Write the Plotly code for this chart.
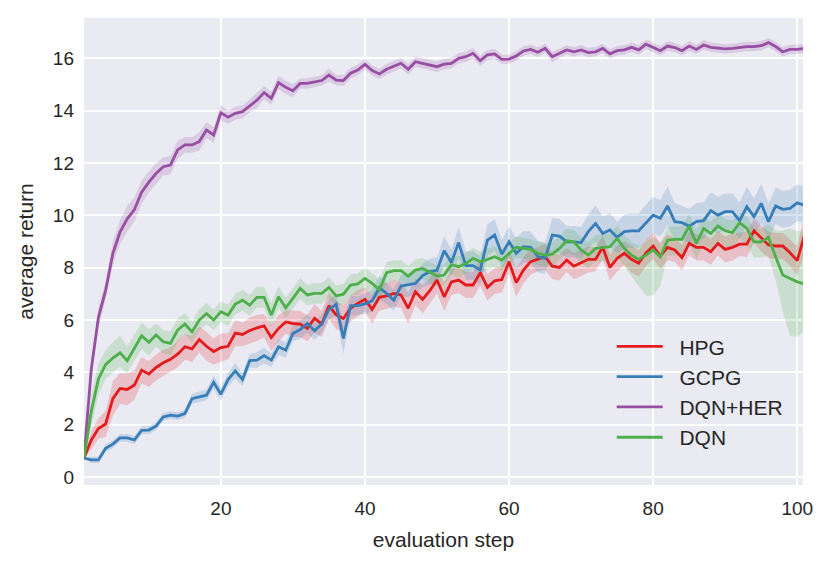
import plotly.graph_objects as go

# evaluation steps
steps = list(range(1, 102))

hpg = [0.73, 1.41, 1.86, 2.03, 3.0, 3.39, 3.35, 3.52, 4.09, 3.94,
       4.19, 4.37, 4.5, 4.7, 4.98, 4.9, 5.26, 5.0, 4.8, 4.95,
       5.0, 5.5, 5.45, 5.6, 5.7, 5.78, 5.33, 5.68, 5.93, 5.87,
       5.85, 5.68, 6.07, 5.85, 6.55, 6.2, 6.06, 6.45, 6.64, 6.79,
       6.41, 6.87, 6.92, 7.02, 6.96, 6.45, 7.08, 6.79, 7.12, 7.53,
       6.89, 7.46, 7.53, 7.34, 7.34, 7.81, 7.25, 7.5, 7.55, 8.23,
       7.43, 7.91, 8.23, 8.32, 8.42, 8.06, 8.01, 8.29, 8.06, 8.19,
       8.32, 8.32, 8.78, 8.01, 8.36, 8.55, 8.32, 8.17, 8.57, 8.83,
       8.45, 8.78, 8.68, 8.39, 8.93, 8.78, 8.78, 8.61, 8.93, 8.7,
       8.78, 8.9, 8.9, 9.41, 9.12, 8.87, 8.83, 8.83, 8.57, 8.27,
       9.25]

gcpg = [0.73, 0.66, 0.66, 1.1, 1.26, 1.5, 1.5, 1.42, 1.79, 1.8,
        1.95, 2.3, 2.37, 2.33, 2.43, 3.0, 3.07, 3.13, 3.62, 3.17,
        3.73, 4.06, 3.73, 4.45, 4.47, 4.64, 4.47, 4.98, 4.85, 5.49,
        5.64, 5.87, 5.59, 5.85, 6.41, 6.6, 5.3, 6.55, 6.55, 6.62,
        6.74, 7.23, 7.02, 6.76, 7.3, 7.34, 7.4, 7.7, 7.85, 7.9,
        8.65, 8.2, 8.96, 8.08, 8.08, 7.91, 9.06, 9.25, 8.52, 8.99,
        8.55, 8.8, 8.78, 8.42, 8.36, 9.25, 9.21, 8.99, 8.99, 8.96,
        9.38, 9.69, 9.31, 9.44, 9.16, 9.38, 9.41, 9.41, 9.72, 10.01,
        9.89, 10.36, 9.76, 9.72, 9.59, 9.76, 9.8, 10.18, 10.01, 10.14,
        10.14, 9.8, 10.33, 9.95, 10.46, 9.76, 10.36, 10.23, 10.27, 10.48,
        10.39]

dqn_her = [0.73, 4.1, 6.1, 7.13, 8.54, 9.36, 9.87, 10.22, 10.89, 11.27,
           11.6, 11.86, 11.92, 12.5, 12.69, 12.69, 12.82, 13.26, 13.07, 13.92,
           13.75, 13.9, 13.96, 14.18, 14.4, 14.69, 14.47, 15.07, 14.89, 14.76,
           15.04, 15.04, 15.1, 15.15, 15.36, 15.17, 15.15, 15.43, 15.55, 15.77,
           15.53, 15.4, 15.58, 15.71, 15.81, 15.58, 15.87, 15.81, 15.74, 15.68,
           15.78, 15.81, 16.0, 16.06, 16.19, 15.91, 16.13, 16.17, 15.96, 15.97,
           16.09, 16.28, 16.34, 16.23, 16.38, 16.06, 16.19, 16.32, 16.25, 16.32,
           16.22, 16.25, 16.38, 16.17, 16.29, 16.32, 16.42, 16.32, 16.54, 16.41,
           16.29, 16.47, 16.41, 16.29, 16.47, 16.34, 16.51, 16.42, 16.38, 16.36,
           16.38, 16.42, 16.45, 16.45, 16.48, 16.6, 16.45, 16.25, 16.34, 16.34,
           16.38]

dqn = [0.73, 2.5, 3.75, 4.3, 4.55, 4.75, 4.45, 4.95, 5.4, 5.15,
       5.43, 5.17, 5.11, 5.62, 5.85, 5.55, 6.0, 6.25, 6.0, 6.32,
       6.19, 6.61, 6.76, 6.57, 6.87, 6.87, 6.19, 6.89, 6.47, 6.83,
       7.21, 6.96, 7.02, 7.02, 7.25, 6.92, 6.99, 7.34, 7.38, 7.59,
       7.4, 7.15, 7.81, 7.89, 7.89, 7.68, 7.91, 7.97, 7.81, 7.68,
       7.72, 8.12, 8.04, 8.16, 8.36, 8.23, 8.32, 8.42, 8.29, 8.55,
       8.78, 8.74, 8.7, 8.55, 8.48, 8.52, 8.74, 9.03, 8.99, 8.68,
       8.48, 8.74, 8.78, 8.8, 9.12, 8.74, 8.48, 8.32, 8.48, 8.68,
       8.42, 9.06, 9.08, 9.08, 9.59, 8.93, 9.5, 9.31, 9.59, 9.41,
       9.34, 9.72, 9.5, 8.99, 8.99, 9.16, 8.42, 7.72, 7.59, 7.46,
       7.38]

# confidence band half-widths (below / above the mean)
hpg_err = [0.0, 0.35, 0.4, 0.5, 0.65, 0.6, 0.6, 0.55, 0.5, 0.5,
           0.5, 0.5, 0.45, 0.5, 0.5, 0.5, 0.5, 0.55, 0.5, 0.55,
           0.5, 0.5, 0.45, 0.5, 0.5, 0.45, 0.5, 0.5, 0.45, 0.5,
           0.5, 0.5, 0.55, 0.5, 0.5, 0.55, 0.5, 0.5, 0.5, 0.45,
           0.55, 0.5, 0.5, 0.5, 0.5, 0.6, 0.5, 0.55, 0.5, 0.5,
           0.55, 0.5, 0.5, 0.5, 0.5, 0.5, 0.5, 0.5, 0.5, 0.45,
           0.55, 0.5, 0.5, 0.45, 0.5, 0.5, 0.5, 0.45, 0.5, 0.5,
           0.5, 0.45, 0.45, 0.5, 0.5, 0.45, 0.5, 0.5, 0.5, 0.5,
           0.5, 0.5, 0.45, 0.5, 0.45, 0.5, 0.5, 0.5, 0.45, 0.5,
           0.5, 0.45, 0.5, 0.45, 0.5, 0.5, 0.5, 0.5, 0.5, 0.55,
           0.7]

gcpg_err = [0.0, 0.12, 0.12, 0.15, 0.15, 0.15, 0.15, 0.15, 0.15, 0.15,
            0.15, 0.15, 0.15, 0.15, 0.15, 0.2, 0.2, 0.2, 0.25, 0.25,
            0.25, 0.3, 0.25, 0.25, 0.3, 0.3, 0.25, 0.3, 0.3, 0.3,
            0.35, 0.35, 0.35, 0.35, 0.4, 0.4, 0.6, 0.4, 0.35, 0.4,
            0.4, 0.45, 0.4, 0.4, 0.4, 0.45, 0.45, 0.45, 0.5, 0.5,
            0.55, 0.5, 0.6, 0.55, 0.55, 0.55, 0.6, 0.6, 0.55, 0.6,
            0.6, 0.6, 0.6, 0.6, 0.6, 0.65, 0.65, 0.6, 0.6, 0.6,
            0.65, 0.7, 0.65, 0.65, 0.6, 0.65, 0.65, 0.65, 0.7, 0.7,
            0.7, 0.75, 0.7, 0.65, 0.65, 0.7, 0.7, 0.7, 0.7, 0.7,
            0.7, 0.7, 0.75, 0.7, 0.75, 0.7, 0.7, 0.7, 0.7, 0.7,
            0.7]

dqn_her_err = [0.0, 0.3, 0.35, 0.35, 0.45, 0.45, 0.5, 0.45, 0.45, 0.4,
               0.4, 0.35, 0.35, 0.35, 0.3, 0.3, 0.35, 0.3, 0.3, 0.3,
               0.25, 0.25, 0.25, 0.25, 0.3, 0.25, 0.25, 0.25, 0.25, 0.25,
               0.2, 0.2, 0.2, 0.2, 0.25, 0.2, 0.2, 0.2, 0.2, 0.2,
               0.2, 0.2, 0.2, 0.2, 0.2, 0.2, 0.2, 0.2, 0.2, 0.2,
               0.2, 0.2, 0.2, 0.2, 0.2, 0.2, 0.2, 0.2, 0.18, 0.18,
               0.18, 0.18, 0.18, 0.18, 0.18, 0.2, 0.18, 0.18, 0.18, 0.18,
               0.18, 0.18, 0.18, 0.18, 0.18, 0.18, 0.18, 0.18, 0.18, 0.18,
               0.18, 0.18, 0.18, 0.18, 0.18, 0.18, 0.18, 0.18, 0.18, 0.18,
               0.18, 0.18, 0.18, 0.18, 0.18, 0.18, 0.18, 0.18, 0.18, 0.18,
               0.18]

dqn_err_lo = [0.0, 0.6, 0.6, 0.55, 0.55, 0.55, 0.5, 0.5, 0.5, 0.5,
              0.45, 0.45, 0.45, 0.45, 0.4, 0.4, 0.4, 0.4, 0.4, 0.4,
              0.4, 0.4, 0.4, 0.4, 0.4, 0.4, 0.45, 0.4, 0.4, 0.4,
              0.4, 0.4, 0.4, 0.4, 0.4, 0.4, 0.4, 0.4, 0.4, 0.4,
              0.4, 0.4, 0.4, 0.4, 0.4, 0.4, 0.4, 0.4, 0.4, 0.4,
              0.4, 0.4, 0.4, 0.4, 0.4, 0.4, 0.4, 0.4, 0.4, 0.4,
              0.4, 0.4, 0.4, 0.45, 0.45, 0.45, 0.45, 0.5, 0.5, 0.5,
              0.5, 0.5, 0.55, 0.6, 0.7, 0.7, 0.8, 1.0, 1.55, 1.75,
              1.1, 0.6, 0.6, 0.6, 0.65, 0.6, 0.6, 0.6, 0.6, 0.6,
              0.6, 0.6, 0.6, 0.6, 0.6, 0.7, 0.9, 1.4, 2.2, 2.1,
              1.8]

dqn_err_hi = [0.0, 0.6, 0.6, 0.55, 0.6, 0.65, 0.55, 0.5, 0.5, 0.5,
              0.45, 0.45, 0.45, 0.45, 0.4, 0.4, 0.4, 0.4, 0.4, 0.4,
              0.4, 0.4, 0.4, 0.4, 0.4, 0.4, 0.45, 0.4, 0.4, 0.4,
              0.4, 0.4, 0.4, 0.4, 0.4, 0.4, 0.4, 0.4, 0.4, 0.4,
              0.4, 0.4, 0.4, 0.4, 0.4, 0.4, 0.4, 0.4, 0.4, 0.4,
              0.4, 0.4, 0.4, 0.4, 0.4, 0.4, 0.4, 0.4, 0.4, 0.4,
              0.4, 0.4, 0.4, 0.45, 0.45, 0.45, 0.45, 0.45, 0.45, 0.5,
              0.5, 0.5, 0.5, 0.5, 0.5, 0.5, 0.5, 0.5, 0.5, 0.5,
              0.5, 0.5, 0.5, 0.5, 0.45, 0.5, 0.45, 0.45, 0.45, 0.45,
              0.45, 0.4, 0.45, 0.5, 0.5, 0.5, 1.0, 1.7, 1.9, 1.95,
              2.0]

series = [
    ("HPG", hpg, hpg_err, hpg_err, "#e41a1c", "rgba(228,26,28,0.2)"),
    ("GCPG", gcpg, gcpg_err, gcpg_err, "#377eb8", "rgba(55,126,184,0.2)"),
    ("DQN+HER", dqn_her, dqn_her_err, dqn_her_err, "#984ea3", "rgba(152,78,163,0.2)"),
    ("DQN", dqn, dqn_err_lo, dqn_err_hi, "#4daf4a", "rgba(77,175,74,0.2)"),
]

fig = go.Figure()

# shaded bands first
for name, mean, lo, hi, color, fill in series:
    fig.add_trace(go.Scatter(
        x=steps, y=[m - e for m, e in zip(mean, lo)],
        mode="lines", line=dict(width=0), showlegend=False, hoverinfo="skip"))
    fig.add_trace(go.Scatter(
        x=steps, y=[m + e for m, e in zip(mean, hi)],
        mode="lines", line=dict(width=0), fill="tonexty", fillcolor=fill,
        showlegend=False, hoverinfo="skip"))

# mean lines (nbsp pads the gap between legend line and label)
for name, mean, lo, hi, color, fill in series:
    fig.add_trace(go.Scatter(x=steps, y=mean, mode="lines",
                             name="\u00a0\u00a0" + name,
                             line=dict(color=color, width=2.8)))

# page body adds an 8px offset, so the figure is a bit smaller than the window
fig.update_layout(
    width=823, height=557, autosize=False,
    margin=dict(l=76, r=28, t=10, b=80),
    paper_bgcolor="white", plot_bgcolor="#eaeaf2",
    font=dict(family="Liberation Sans, Arial, sans-serif", size=19, color="#262626"),
    legend=dict(x=0.734, y=0.34, xanchor="left", yanchor="top",
                traceorder="normal",
                bgcolor="rgba(0,0,0,0)", font=dict(size=21),
                itemwidth=46, tracegroupgap=0),
    xaxis=dict(range=[1, 100.8], tickvals=[20, 40, 60, 80, 100],
               gridcolor="white", gridwidth=1.5, zeroline=False, showline=False,
               ticks="", ticklabelstandoff=10, automargin=False,
               title=dict(text="evaluation step", font=dict(size=21), standoff=14)),
    yaxis=dict(range=[-0.3, 17.54], tickvals=list(range(0, 17, 2)),
               gridcolor="white", gridwidth=1.5, zeroline=False, showline=False,
               ticks="", ticklabelstandoff=9, automargin=False,
               title=dict(text="average return", font=dict(size=21), standoff=13)),
)

fig.write_html("out.html")
